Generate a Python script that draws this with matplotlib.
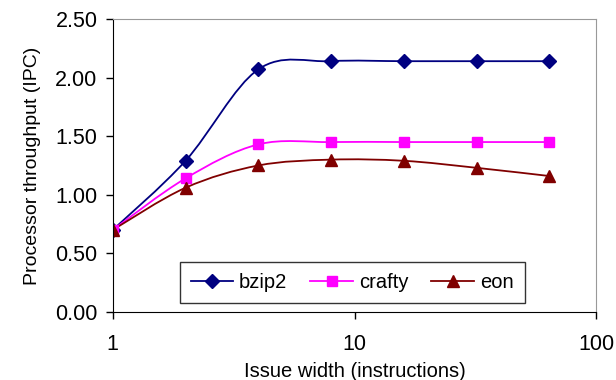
import numpy as np
import matplotlib
matplotlib.use("Agg")
import matplotlib.pyplot as plt
from matplotlib.path import Path
from matplotlib.patches import PathPatch

plt.rcParams['font.family'] = ['Liberation Sans', 'DejaVu Sans']

issue_width = [1, 2, 4, 8, 16, 32, 64]
bzip2 = [0.70, 1.29, 2.07, 2.14, 2.14, 2.14, 2.14]
crafty = [0.70, 1.14, 1.43, 1.45, 1.45, 1.45, 1.45]
eon = [0.70, 1.06, 1.25, 1.30, 1.29, 1.23, 1.16]

series = [("bzip2", bzip2, "#000080", "D", 7),
          ("crafty", crafty, "#FF00FF", "s", 7.5),
          ("eon", eon, "#800000", "^", 9)]


def smooth_path(xs, ys):
    # Excel-like smoothed line: cubic bezier segments in (log x, y) space
    lx = np.log10(xs)
    ys = np.asarray(ys, float)
    n = len(lx)
    verts = [(lx[0], ys[0])]
    codes = [Path.MOVETO]
    for i in range(n - 1):
        p0 = np.array([lx[max(i - 1, 0)], ys[max(i - 1, 0)]])
        p1 = np.array([lx[i], ys[i]])
        p2 = np.array([lx[i + 1], ys[i + 1]])
        p3 = np.array([lx[min(i + 2, n - 1)], ys[min(i + 2, n - 1)]])
        c1 = p1 + (p2 - p0) / 6
        c2 = p2 - (p3 - p1) / 6
        verts += [tuple(c1), tuple(c2), tuple(p2)]
        codes += [Path.CURVE4] * 3
    verts = [(10 ** vx, vy) for vx, vy in verts]
    return Path(verts, codes)


fig = plt.figure(figsize=(6.16, 3.8), dpi=100)
ax = fig.add_axes([0.183, 0.179, 0.785, 0.771])
ax.set_xscale('log')

for name, vals, col, mk, ms in series:
    ax.add_patch(PathPatch(smooth_path(issue_width, vals), fill=False,
                           edgecolor=col, lw=1.3))
    ax.plot(issue_width, vals, linestyle='none', marker=mk, color=col,
            markersize=ms)
    ax.plot([], [], color=col, lw=1.3, marker=mk, markersize=ms, label=name)

ax.set_xlim(1, 100)
ax.set_ylim(0, 2.5)
ax.set_yticks(np.arange(0, 2.51, 0.5))
ax.set_yticklabels(['%.2f' % v for v in np.arange(0, 2.51, 0.5)])
ax.set_xticks([1, 10, 100])
ax.set_xticklabels(['1', '10', '100'])
ax.minorticks_off()
ax.tick_params(labelsize=15.5, direction='out', length=5, width=1)
ax.tick_params(axis='y', pad=6)
ax.tick_params(axis='x', pad=11)

for s in ['top', 'right']:
    ax.spines[s].set_color('#999999')
for s in ['left', 'bottom']:
    ax.spines[s].set_color('black')

ax.set_xlabel('Issue width (instructions)', fontsize=14.5, labelpad=5)
ax.set_ylabel('Processor throughput (IPC)', fontsize=14, labelpad=10)

leg = ax.legend(loc='lower center', bbox_to_anchor=(0.495, 0.03), ncol=3,
                fontsize=14.5, frameon=True, fancybox=False, edgecolor='black',
                handlelength=2.1, columnspacing=1.15, handletextpad=0.3,
                borderpad=0.55, borderaxespad=0)
leg.get_frame().set_linewidth(1)

fig.savefig('out.png', dpi=100)
